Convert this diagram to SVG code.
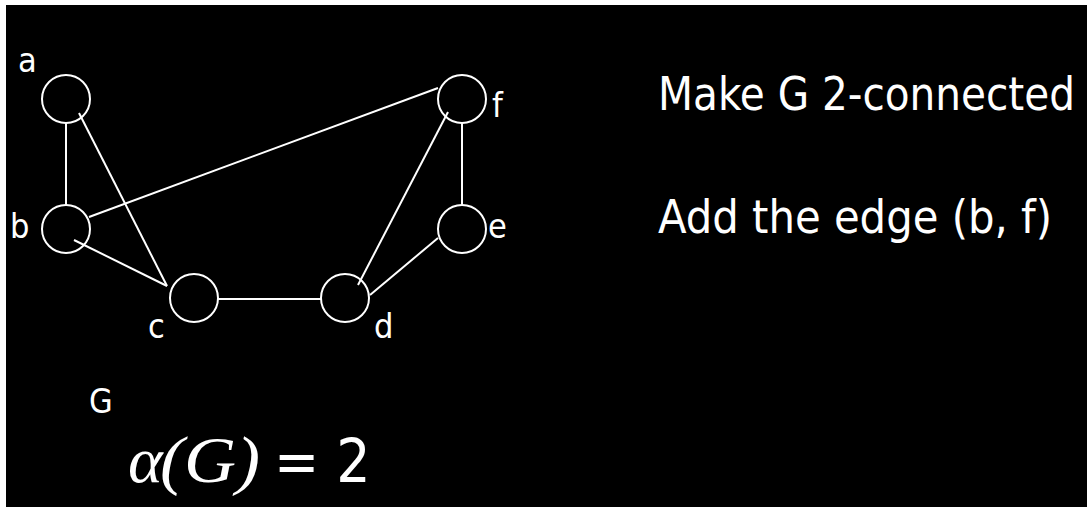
<svg xmlns="http://www.w3.org/2000/svg" width="1087" height="507" viewBox="0 0 1087 507">
<style>
.node{fill:none;stroke:#fff;stroke-width:2}
.edge{stroke:#fff;stroke-width:2;fill:none}
.lbl{fill:#fff;font-family:"DejaVu Sans Condensed","DejaVu Sans",sans-serif;font-size:34px}
.big{fill:#fff;font-family:"DejaVu Sans Condensed","DejaVu Sans",sans-serif;font-size:46px}
.math{fill:#fff;font-family:"Liberation Serif",serif;font-style:italic;font-size:66px}
</style>
<rect x="0" y="0" width="1087" height="507" fill="#fff"/>
<rect x="6" y="5" width="1081" height="502" fill="#000"/>
<g id="connectors">
<line class="edge" x1="66" y1="123" x2="66" y2="205"/>
<line class="edge" x1="79" y1="113" x2="167" y2="286"/>
<line class="edge" x1="74" y1="240" x2="167" y2="286"/>
<line class="edge" x1="89" y1="217" x2="438" y2="88"/>
<line class="edge" x1="448" y1="112" x2="358" y2="285"/>
<line class="edge" x1="462" y1="123" x2="462" y2="205"/>
<line class="edge" x1="438" y1="238" x2="370" y2="295"/>
<line class="edge" x1="217" y1="299" x2="321" y2="299"/>
</g>
<g id="node-a"><circle class="node" cx="66" cy="99" r="24"/><text class="lbl" x="18" y="72">a</text></g>
<g id="node-b"><circle class="node" cx="66" cy="229" r="24"/><text class="lbl" x="10" y="238">b</text></g>
<g id="node-c"><circle class="node" cx="194" cy="298" r="24"/><text class="lbl" x="148" y="338">c</text></g>
<g id="node-d"><circle class="node" cx="345" cy="298" r="24"/><text class="lbl" x="374" y="338">d</text></g>
<g id="node-e"><circle class="node" cx="462" cy="229" r="24"/><text class="lbl" x="488" y="238">e</text></g>
<g id="node-f"><circle class="node" cx="462" cy="99" r="24"/><text class="lbl" x="492" y="117">f</text></g>
<g id="texts">
<text class="big" x="658" y="110" textLength="417" lengthAdjust="spacingAndGlyphs">Make G 2-connected</text>
<text class="big" x="658" y="233" textLength="394" lengthAdjust="spacingAndGlyphs">Add the edge (b, f)</text>
<text class="lbl" x="89" y="413">G</text>
<text class="math" x="128" y="482">α</text>
<text class="math" x="160" y="482" textLength="100" lengthAdjust="spacingAndGlyphs">(G)</text>
<text class="big" x="274" y="482" style="font-size:60px">= 2</text>
</g>
</svg>
